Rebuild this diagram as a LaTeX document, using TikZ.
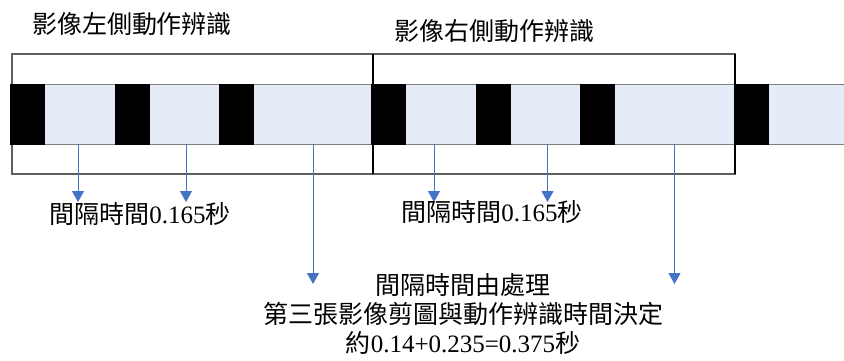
\documentclass[tikz,border=0pt]{standalone}
\usepackage{fontspec}
\setmainfont{Liberation Serif}
\newfontfamily\cjk{Noto Sans CJK TC}
\usetikzlibrary{arrows.meta}
\definecolor{stripfill}{RGB}{230,236,247}
\definecolor{arrowblue}{RGB}{68,114,196}
\definecolor{framegray}{RGB}{95,95,95}
\definecolor{stripgray}{RGB}{128,128,128}
\begin{document}
\begin{tikzpicture}[x=1pt,y=-1pt,
  frame/.style={draw=framegray,line width=1.3pt,inner sep=0pt,outer sep=0pt,anchor=north west,minimum height=120pt},
  stripbox/.style={draw=stripgray,fill=stripfill,line width=1pt,inner sep=0pt,outer sep=0pt,anchor=north west,minimum height=60pt,minimum width=840pt},
  blk/.style={fill=black,draw=black,inner sep=0pt,outer sep=0pt,anchor=north west,minimum width=34pt,minimum height=60pt},
  arr/.style={draw=arrowblue,line width=1pt,-{Triangle[width=12pt,length=11pt]}},
  lbl/.style={inner sep=0pt,font=\fontsize{25}{29}\selectfont\cjk},
]
\useasboundingbox (0,0) rectangle (844,360);
% frames
\node[frame,minimum width=361pt] (fL) at (12,54) {};
\node[frame,minimum width=362pt] (fR) at (373,54) {};
\draw[black,line width=1.3pt] (fR.north west) -- (fR.south west);
\draw[black,line width=1.3pt] (fR.north east) -- (fR.south east);
% strip
\node[stripbox] (strip) at (10,84) {};
\node[blk] (b1) at (10,84) {};
\node[blk] (b2) at (115,84) {};
\node[blk] (b3) at (219,84) {};
\node[blk] (b4) at (371,84) {};
\node[blk] (b5) at (476.5,84) {};
\node[blk] (b6) at (580.5,84) {};
\node[blk] (b7) at (734,84) {};
% arrow tips
\coordinate (t1) at (78,202);
\coordinate (t2) at (186,202);
\coordinate (t3) at (313,284);
\coordinate (t4) at (434,202);
\coordinate (t5) at (547.5,202);
\coordinate (t6) at (674.5,284);
\foreach \t in {t1,t2,t3,t4,t5,t6}
  \draw[arr] (strip.south -| \t) -- (\t);
% texts
\node[lbl] (title1) at (132,24) {影像左側動作辨識};
\node[lbl] (title2) at (494,31) {影像右側動作辨識};
\node[lbl] (lab1) at (140,214) {間隔時間{\rmfamily 0.165}秒};
\node[lbl] (lab2) at (492,212) {間隔時間{\rmfamily 0.165}秒};
\node[lbl,align=center] (lab3) at (463,314) {間隔時間由處理\\第三張影像剪圖與動作辨識時間決定\\約{\rmfamily 0.14+0.235=0.375}秒};
\end{tikzpicture}
\end{document}
